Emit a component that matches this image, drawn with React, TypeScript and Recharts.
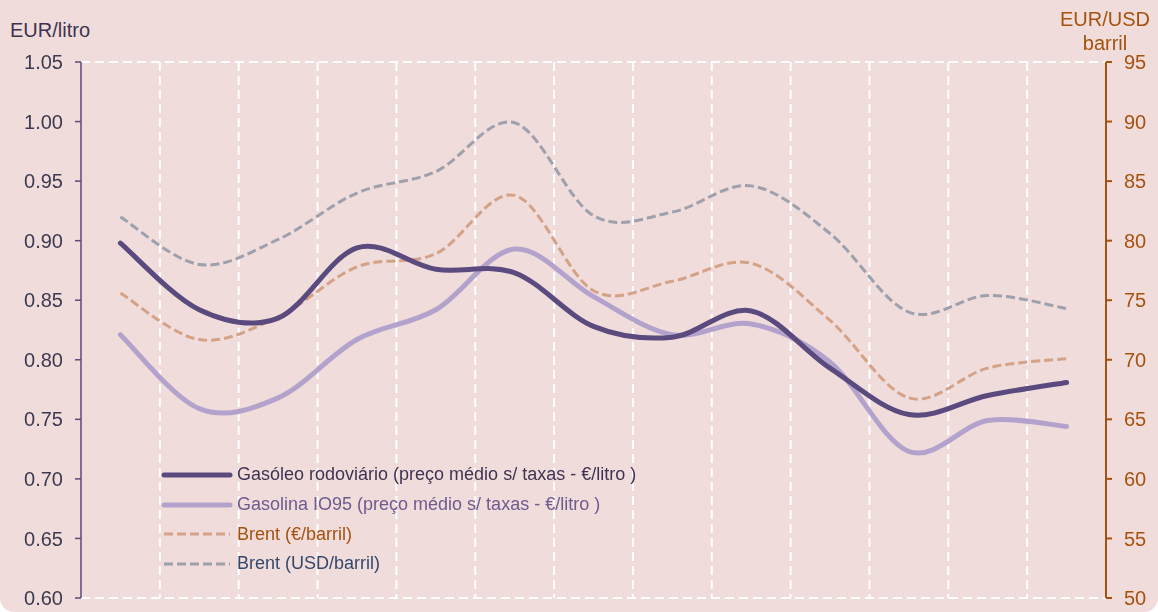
import React from 'react';
import { LineChart, Line, XAxis, YAxis, CartesianGrid } from 'recharts';

const PERIODS = ['P1', 'P2', 'P3', 'P4', 'P5', 'P6', 'P7', 'P8', 'P9', 'P10', 'P11', 'P12', 'P13'];
const GASOLEO = [0.898, 0.842, 0.835, 0.894, 0.876, 0.873, 0.828, 0.819, 0.841, 0.793, 0.754, 0.77, 0.781];
const GASOLINA = [0.821, 0.759, 0.768, 0.817, 0.842, 0.893, 0.853, 0.821, 0.83, 0.798, 0.723, 0.749, 0.744];
const BRENT_EUR = [75.6, 71.7, 73.6, 77.8, 78.9, 83.8, 75.8, 76.6, 78.1, 73.3, 66.8, 69.3, 70.1];
const BRENT_USD = [82.0, 78.0, 80.1, 84.0, 85.8, 89.9, 82.1, 82.4, 84.6, 80.6, 74.0, 75.4, 74.3];
const LEFT_TICKS = [0.6, 0.65, 0.7, 0.75, 0.8, 0.85, 0.9, 0.95, 1.0, 1.05];
const RIGHT_TICKS = [50, 55, 60, 65, 70, 75, 80, 85, 90, 95];

const data = PERIODS.map((p, i) => ({
  period: p,
  gasoleo: GASOLEO[i],
  gasolina: GASOLINA[i],
  brentEur: BRENT_EUR[i],
  brentUsd: BRENT_USD[i],
}));

const FONT = '"Liberation Sans", Arial, sans-serif';
const LEFT_COLOR = '#5b4a7b';
const RIGHT_COLOR = '#a5520f';

const SERIES = [
  { key: 'gasoleo', name: 'Gasóleo rodoviário (preço médio s/ taxas - €/litro )', color: '#5a4a7e', width: 5, dash: undefined, text: '#3f3450', axis: 'left' },
  { key: 'gasolina', name: 'Gasolina IO95 (preço médio s/ taxas - €/litro )', color: '#b3a3cc', width: 5, dash: undefined, text: '#6e5b8e', axis: 'left' },
  { key: 'brentEur', name: 'Brent (€/barril)', color: '#d4a287', width: 3, dash: '9 4', text: '#a5520f', axis: 'right' },
  { key: 'brentUsd', name: 'Brent (USD/barril)', color: '#9ea0ab', width: 3, dash: '9 4', text: '#34496a', axis: 'right' },
];

// Excel-like smoothed line (Catmull-Rom through the points)
function smoothCurve(context: any) {
  let pts: number[][] = [];
  return {
    areaStart() {},
    areaEnd() {},
    lineStart() {
      pts = [];
    },
    point(x: number, y: number) {
      pts.push([+x, +y]);
    },
    lineEnd() {
      if (!pts.length) return;
      context.moveTo(pts[0][0], pts[0][1]);
      for (let i = 0; i < pts.length - 1; i++) {
        const p0 = pts[i - 1] || pts[i];
        const p1 = pts[i];
        const p2 = pts[i + 1];
        const p3 = pts[i + 2] || p2;
        const t = 1 / 6;
        context.bezierCurveTo(
          p1[0] + (p2[0] - p0[0]) * t,
          p1[1] + (p2[1] - p0[1]) * t,
          p2[0] - (p3[0] - p1[0]) * t,
          p2[1] - (p3[1] - p1[1]) * t,
          p2[0],
          p2[1]
        );
      }
    },
  };
}

function LegendBox() {
  return (
    <div style={{ position: 'absolute', left: 161, top: 460, fontFamily: FONT, fontSize: 18 }}>
      {SERIES.map((s) => (
        <div key={s.key} style={{ display: 'flex', alignItems: 'center', height: 29.7 }}>
          <svg width={72} height={10} style={{ marginRight: 4 }}>
            <line
              x1={3}
              y1={5}
              x2={69}
              y2={5}
              stroke={s.color}
              strokeWidth={s.dash ? 3 : 5}
              strokeDasharray={s.dash}
              strokeLinecap={s.dash ? 'butt' : 'round'}
            />
          </svg>
          <span style={{ color: s.text, whiteSpace: 'nowrap' }}>{s.name}</span>
        </div>
      ))}
    </div>
  );
}

export default function App() {
  const n = PERIODS.length;
  return (
    <div
      style={{
        position: 'fixed',
        left: 0,
        top: 0,
        width: 1158,
        height: 612,
        background: '#f1dcdc',
        borderRadius: '0 0 14px 14px',
        overflow: 'hidden',
        fontFamily: FONT,
      }}
    >
      <div style={{ position: 'absolute', left: 10, top: 20, fontSize: 20, lineHeight: '20px', color: '#3d3350' }}>
        EUR/litro
      </div>
      <div
        style={{
          position: 'absolute',
          left: 1050,
          width: 110,
          top: 7,
          fontSize: 20,
          lineHeight: '24px',
          color: RIGHT_COLOR,
          textAlign: 'center',
        }}
      >
        EUR/USD
        <br />
        barril
      </div>
      <LineChart width={1158} height={612} data={data} margin={{ top: 62, right: 0, bottom: 14, left: 0 }}>
        <CartesianGrid
          stroke="#ffffff"
          strokeWidth={2}
          strokeDasharray="9 5"
          verticalCoordinatesGenerator={({ offset }: any) =>
            Array.from({ length: n - 1 }, (_, k) => offset.left + (offset.width * (k + 1)) / n)
          }
        />
        <XAxis dataKey="period" scale="band" hide />
        <YAxis
          yAxisId="left"
          domain={[0.6, 1.05]}
          ticks={LEFT_TICKS}
          tickFormatter={(v: number) => v.toFixed(2)}
          width={81}
          axisLine={{ stroke: LEFT_COLOR, strokeWidth: 1.5 }}
          tickLine={{ stroke: LEFT_COLOR, strokeWidth: 1.5 }}
          tickSize={6}
          tickMargin={12}
          tick={{ fill: '#3d3a50', fontSize: 20, fontFamily: FONT }}
          interval={0}
        />
        <YAxis
          yAxisId="right"
          orientation="right"
          domain={[50, 95]}
          ticks={RIGHT_TICKS}
          width={52}
          axisLine={{ stroke: RIGHT_COLOR, strokeWidth: 2 }}
          tickLine={{ stroke: RIGHT_COLOR, strokeWidth: 2 }}
          tickSize={6}
          tickMargin={12}
          tick={{ fill: RIGHT_COLOR, fontSize: 20, fontFamily: FONT }}
          interval={0}
        />
        {[...SERIES].reverse().map((s) => (
          <Line
            key={s.key}
            yAxisId={s.axis}
            dataKey={s.key}
            name={s.name}
            type={smoothCurve as any}
            stroke={s.color}
            strokeWidth={s.width}
            strokeDasharray={s.dash}
            strokeLinecap={s.dash ? 'butt' : 'round'}
            dot={false}
            activeDot={false}
            isAnimationActive={false}
          />
        ))}
      </LineChart>
      <LegendBox />
    </div>
  );
}
